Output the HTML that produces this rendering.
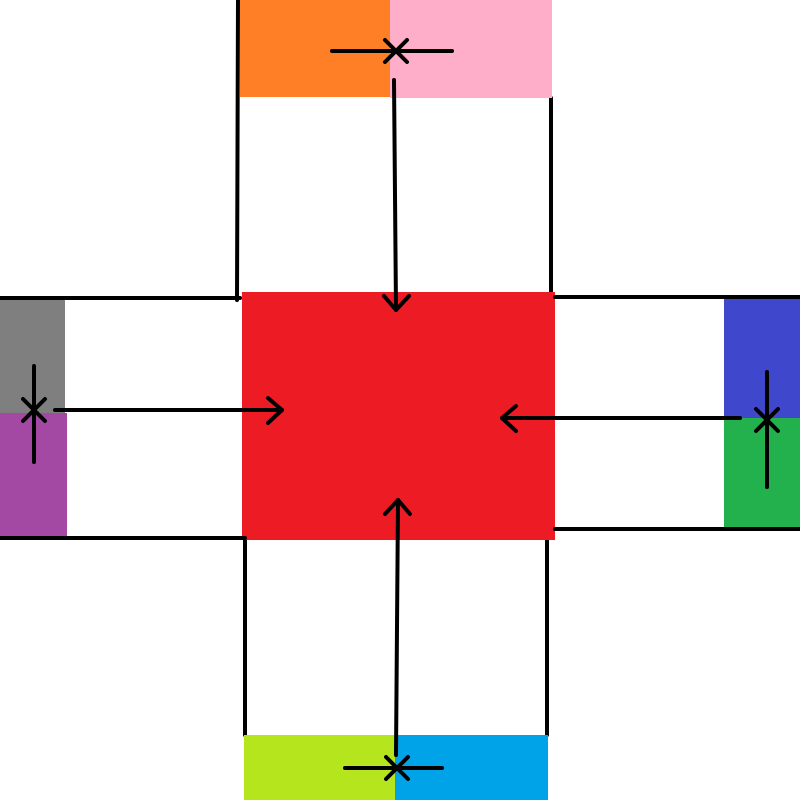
<!DOCTYPE html>
<html>
<head>
<meta charset="utf-8">
<style>
html,body{margin:0;padding:0;background:#fff;width:800px;height:800px;overflow:hidden;}
svg{display:block;}
</style>
</head>
<body>
<svg width="800" height="800" viewBox="0 0 800 800">
  <g stroke="#000" stroke-width="4" fill="none" stroke-linecap="round" stroke-linejoin="round">
    <line x1="238" y1="0" x2="237" y2="300"/>
    <line x1="551" y1="98" x2="551" y2="292"/>
    <line x1="245" y1="540" x2="245" y2="735"/>
    <line x1="547" y1="540" x2="547" y2="735"/>
  </g>
  <g>
    <rect x="240" y="0" width="150" height="97" fill="#ff7f27"/>
    <rect x="390" y="0" width="162" height="98" fill="#ffaec9"/>
  </g>
  <g>
    <rect x="0" y="297" width="65" height="116" fill="#7f7f7f"/>
    <rect x="0" y="413" width="67" height="127" fill="#a349a4"/>
  </g>
  <g>
    <rect x="724" y="298" width="76" height="120" fill="#3f48cc"/>
    <rect x="724" y="418" width="76" height="112" fill="#22b14c"/>
  </g>
  <g>
    <rect x="244" y="735" width="151" height="65" fill="#b5e61d"/>
    <rect x="395" y="735" width="153" height="65" fill="#00a2e8"/>
  </g>
  <rect x="242" y="292" width="313" height="248" fill="#ed1c24"/>

  <g stroke="#000" stroke-width="4" fill="none" stroke-linecap="round" stroke-linejoin="round">
    <line x1="332" y1="51" x2="452" y2="51"/>
    <line x1="385" y1="40" x2="407" y2="62"/>
    <line x1="385" y1="62" x2="407" y2="40"/>
    <line x1="394" y1="80" x2="396" y2="310"/>
    <polyline points="384,296 396,310 409,296"/>
    <line x1="0" y1="298" x2="240" y2="298"/>
    <line x1="0" y1="538" x2="245" y2="538"/>
    <line x1="34" y1="366" x2="34" y2="462"/>
    <line x1="23" y1="399" x2="45" y2="421"/>
    <line x1="23" y1="421" x2="45" y2="399"/>
    <line x1="55" y1="410" x2="282" y2="410"/>
    <polyline points="268,398 282,410 268,423"/>
    <line x1="555" y1="297" x2="800" y2="297"/>
    <line x1="555" y1="529" x2="800" y2="529"/>
    <line x1="767" y1="372" x2="767" y2="487"/>
    <line x1="756" y1="409" x2="778" y2="431"/>
    <line x1="756" y1="431" x2="778" y2="409"/>
    <line x1="740" y1="418" x2="502" y2="418"/>
    <polyline points="516,406 502,418 516,431"/>
    <line x1="345" y1="768" x2="442" y2="768"/>
    <line x1="386" y1="757" x2="408" y2="779"/>
    <line x1="386" y1="779" x2="408" y2="757"/>
    <line x1="396" y1="755" x2="398" y2="500"/>
    <polyline points="385,514 398,500 410,514"/>
  </g>
</svg>
</body>
</html>
